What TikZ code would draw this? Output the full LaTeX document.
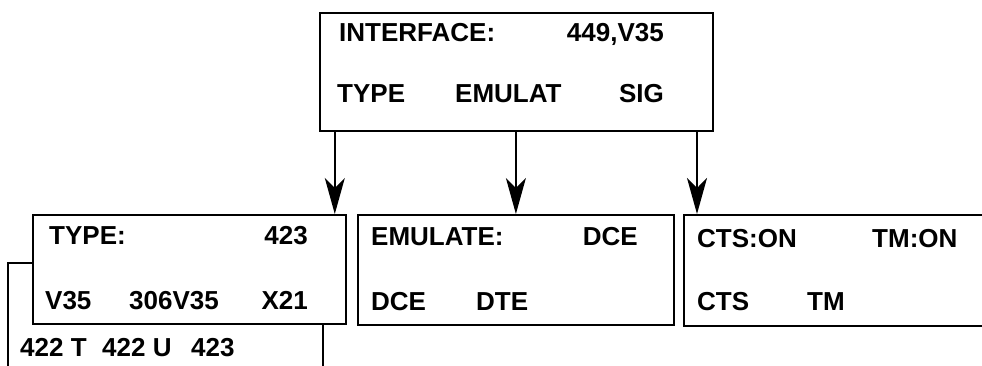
\documentclass[tikz,border=0pt]{standalone}
\usepackage{fontspec}
\setmainfont{Liberation Sans}
\usetikzlibrary{arrows.meta,calc}
\tikzset{
  box/.style={draw=black, line width=1.8pt, fill=white, inner sep=0pt, anchor=north west},
  lbl/.style={inner sep=0pt, font=\fontsize{26}{30}\selectfont\bfseries, text=black},
  lw/.style={lbl, anchor=base west},
  le/.style={lbl, anchor=base east},
  arr/.style={draw=black, line width=1.5pt, -{Stealth[length=36pt, width=20pt, inset=10pt]}}
}
\begin{document}
\begin{tikzpicture}[x=1pt,y=-1pt]
\clip (0,0) rectangle (982,366);
\fill[white] (0,0) rectangle (982,366);
% top box
\node[box, minimum width=393pt, minimum height=118pt] (top) at (319,12) {};
\node[lw] (t_if) at (339,42) {INTERFACE:};
\node[le] (t_iv) at (664,42) {449,V35};
\node[lw] (t_ty) at (337,103) {TYPE};
\node[lw] (t_em) at (455,103) {EMULAT};
\node[le] (t_sg) at (664,103) {SIG};
% back box
\node[box, minimum width=315pt, minimum height=150pt] (back) at (7,262) {};
% type box
\node[box, minimum width=313pt, minimum height=109pt] (typebox) at (32,214) {};
\node[lw] (a_ty) at (49,244) {TYPE:};
\node[le] (a_n) at (308,244) {423};
\node[lw] (a_v) at (45,309) {V35};
\node[lw] (a_3) at (129,309) {306V35};
\node[le] (a_x) at (308,309) {X21};
\node[lw] (b_1) at (20,356) {422 T};
\node[lw] (b_2) at (102,356) {422 U};
\node[lw] (b_3) at (191,356) {423};
% emulate box
\node[box, minimum width=316pt, minimum height=110pt] (emul) at (357,214) {};
\node[lw] (e_1) at (371,245) {EMULATE:};
\node[le] (e_2) at (638,245) {DCE};
\node[lw] (e_3) at (371,310) {DCE};
\node[lw] (e_4) at (476,310) {DTE};
% signal box
\node[box, minimum width=330pt, minimum height=111pt] (sig) at (683,214) {};
\node[lw] (s_1) at (697,247) {CTS:ON};
\node[lw] (s_2) at (872,247) {TM:ON};
\node[lw] (s_3) at (697,310) {CTS};
\node[lw] (s_4) at (807,310) {TM};
% arrows
\coordinate (p1) at ($(typebox.north east)+(-12,0)$);
\coordinate (p3) at ($(sig.north west)+(14,0)$);
\draw[arr] (p1 |- top.south) -- (p1);
\draw[arr] (emul.north |- top.south) -- (emul.north);
\draw[arr] (p3 |- top.south) -- (p3);
\end{tikzpicture}
\end{document}
